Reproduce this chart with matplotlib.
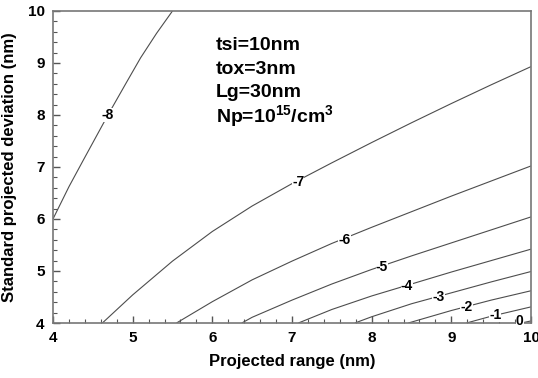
import matplotlib
matplotlib.use("Agg")
import matplotlib.pyplot as plt
from matplotlib.ticker import MultipleLocator

plt.rcParams["font.family"] = ["Liberation Sans", "DejaVu Sans"]
plt.rcParams["mathtext.fontset"] = "custom"
plt.rcParams["mathtext.rm"] = "Liberation Sans:bold"
plt.rcParams["mathtext.it"] = "Liberation Sans:bold"
plt.rcParams["mathtext.bf"] = "Liberation Sans:bold"

# Contour levels and their traced iso-lines (projected range, std deviation)
levels = [-8, -7, -6, -5, -4, -3, -2, -1, 0]

rp_m8 = [4.0, 4.2, 4.38, 4.69, 4.92, 5.1, 5.3, 5.5]
sd_m8 = [6.0, 6.62, 7.13, 8.0, 8.62, 9.1, 9.57, 10.0]

rp_m7 = [4.62, 5.0, 5.5, 6.0, 6.5, 7.0, 7.5, 8.0, 8.5, 9.0, 9.5, 10.0]
sd_m7 = [4.0, 4.54, 5.19, 5.76, 6.25, 6.68, 7.08, 7.47, 7.85, 8.22, 8.58, 8.93]

rp_m6 = [5.55, 6.0, 6.5, 7.0, 7.5, 8.0, 8.5, 9.0, 9.5, 10.0]
sd_m6 = [4.0, 4.41, 4.83, 5.19, 5.53, 5.84, 6.14, 6.44, 6.73, 7.02]

rp_m5 = [6.37, 6.5, 7.0, 7.5, 8.0, 8.5, 9.0, 9.5, 10.0]
sd_m5 = [4.0, 4.11, 4.44, 4.75, 5.03, 5.29, 5.54, 5.79, 6.04]

rp_m4 = [7.08, 7.5, 8.0, 8.5, 9.0, 9.5, 10.0]
sd_m4 = [4.0, 4.26, 4.52, 4.75, 4.98, 5.2, 5.42]

rp_m3 = [7.79, 8.0, 8.5, 9.0, 9.5, 10.0]
sd_m3 = [4.0, 4.12, 4.37, 4.58, 4.79, 4.99]

rp_m2 = [8.46, 9.0, 9.5, 10.0]
sd_m2 = [4.0, 4.24, 4.44, 4.62]

rp_m1 = [9.19, 9.5, 10.0]
sd_m1 = [4.0, 4.13, 4.31]

rp_0 = [9.88, 10.0]
sd_0 = [4.0, 4.04]

# Where each level's label sits along its line
label_rp = [4.69, 7.08, 7.66, 8.13, 8.44, 8.84, 9.19, 9.55, 9.86]
label_sd = [8.0, 6.71, 5.60, 5.07, 4.72, 4.50, 4.31, 4.15, 4.03]

curves = [(rp_m8, sd_m8), (rp_m7, sd_m7), (rp_m6, sd_m6), (rp_m5, sd_m5),
          (rp_m4, sd_m4), (rp_m3, sd_m3), (rp_m2, sd_m2), (rp_m1, sd_m1),
          (rp_0, sd_0)]

x_ticks = [4, 5, 6, 7, 8, 9, 10]
y_ticks = [4, 5, 6, 7, 8, 9, 10]

param_lines = ["tsi=10nm", "tox=3nm", "Lg=30nm", "Np=10$^{15}$/cm$^3$"]

fig = plt.figure(figsize=(5.38, 3.78), dpi=100)
ax = fig.add_axes([0.0985, 0.1455, 0.8885, 0.8255])

for (xs, ys) in curves:
    ax.plot(xs, ys, color="#4d4d4d", lw=0.8, solid_capstyle="butt",
            solid_joinstyle="round")

for lv, lx, ly in zip(levels, label_rp, label_sd):
    ax.text(lx, ly, f"{lv}", fontsize=10, fontweight="bold", ha="center",
            va="center", color="black", zorder=5,
            bbox=dict(boxstyle="square,pad=0.0", fc="white", ec="none"))

ax.set_xlim(4, 10)
ax.set_ylim(4, 10)
ax.set_xticks(x_ticks)
ax.set_yticks(y_ticks)
ax.xaxis.set_minor_locator(MultipleLocator(0.2))
ax.yaxis.set_minor_locator(MultipleLocator(0.2))
ax.tick_params(which="both", direction="in", top=False, right=False,
               color="#555555")
ax.tick_params(which="major", length=5, width=1.0, labelsize=11, pad=6)
ax.tick_params(which="minor", length=3, width=0.8)
for lab in ax.get_xticklabels() + ax.get_yticklabels():
    lab.set_fontweight("bold")

for sp in ax.spines.values():
    sp.set_color("#777777")
    sp.set_linewidth(1.2)

ax.set_xlabel("Projected range (nm)", fontsize=12, fontweight="bold",
              labelpad=6)
ax.set_ylabel("Standard projected deviation (nm)", fontsize=12,
              fontweight="bold", labelpad=8)

for i, s in enumerate(param_lines):
    ax.text(6.04, 9.33 - i * 0.45, s, fontsize=14, fontweight="bold",
            ha="left", va="center", color="black")

fig.savefig("out.png", dpi=100)
